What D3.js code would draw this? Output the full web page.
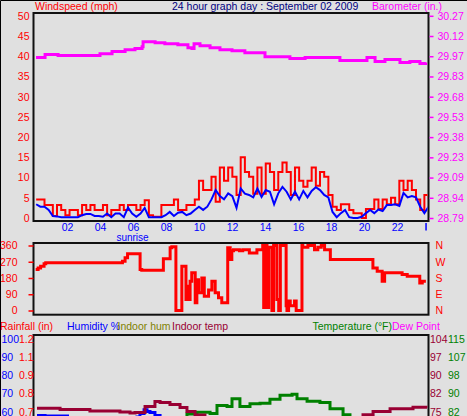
<!DOCTYPE html>
<html>
<head>
<meta charset="utf-8">
<script src="https://cdn.jsdelivr.net/npm/d3@7"></script>
<style>
  body { margin: 0; background: #e0e0e0; overflow: hidden; }
  svg { display: block; }
  text { font-family: "Liberation Sans", Arial, sans-serif; font-size: 10.5px; }
</style>
</head>
<body>
<svg id="chart"></svg>
<script>
// ---- data ----
// wind: one reading about every 15 minutes, starting just after midnight
const windStart = 0.1;
const windStep = 0.253;
const windGust = [
  4.6, 4.6, 3.2, 3.2, 0.5, 3.2, 2.0, 0.7, 2.0, 2.0,
  0.7, 3.2, 2.0, 3.2, 2.0, 2.0, 3.2, 0.7, 2.0, 2.0,
  3.2, 2.0, 3.2, 3.2, 2.0, 3.2, 4.4, 0.7, 0.3, 0.3,
  3.2, 3.2, 3.2, 4.6, 2.0, 2.0, 3.2, 3.2, 4.6, 9.2,
  6.9, 6.9, 10.2, 4.0, 12.5, 9.2, 12.5, 10.2, 5.7, 15.0,
  11.4, 10.2, 6.0, 12.5, 6.0, 13.5, 11.4, 6.9, 11.4, 13.7,
  11.4, 5.7, 12.5, 9.2, 7.7, 9.2, 12.5, 8.0, 11.4, 10.2,
  5.7, 2.8, 2.0, 3.4, 3.4, 2.0, 1.2, 1.2, 0.0, 2.2,
  2.2, 4.6, 2.2, 4.6, 3.4, 5.0, 3.4, 9.2, 6.9, 9.2,
  6.9, 4.6, 2.0, 5.7, 4.6
];
const windAvg = [
  3.4, 2.8, 2.8, 2.0, 0.5, 0.4, 0.2, 0.2, 0.2, 0.2,
  0.2, 0.7, 1.0, 1.0, 0.5, 0.5, 0.3, 1.1, 0.2, 1.1,
  1.1, 0.2, 2.6, 1.1, 0.3, 1.1, 2.5, 0.2, 0.2, 0.2,
  0.2, 0.7, 1.5, 0.5, 1.3, 1.5, 0.7, 1.1, 2.0, 2.8,
  2.0, 2.8, 4.6, 6.9, 5.4, 4.6, 6.1, 5.4, 2.5, 7.3,
  6.0, 5.7, 5.1, 7.3, 5.2, 6.9, 6.5, 3.4, 6.1, 7.7,
  6.5, 4.6, 6.5, 4.6, 6.7, 5.1, 6.7, 7.6, 6.9, 5.7,
  5.1, 1.5, 0.2, 1.2, 2.0, 0.2, 0.0, 0.0, 0.3, 1.2,
  2.0, 1.2, 2.1, 1.7, 3.2, 3.2, 3.4, 3.0, 6.2, 5.1,
  5.4, 5.1, 2.8, 1.2, 2.8
];

const baroHours = [0.09, 0.64, 1.43, 2.75, 3.97, 4.70, 5.49, 6.09, 6.52, 6.58,
  7.31, 7.90, 8.69, 9.30, 9.54, 9.67, 10.03, 10.64, 11.24, 11.97,
  12.75, 13.97, 15.48, 16.40, 18.21, 18.51, 19.73, 20.15, 20.64, 21.24,
  22.15, 22.75, 23.36, 23.72];
const baroValues = [29.964, 29.986, 29.98, 29.98, 29.993, 30.008, 30.022, 30.03, 30.044, 30.08,
  30.073, 30.066, 30.059, 30.036, 30.03, 30.066, 30.051, 30.036, 30.022, 30.015,
  30.0, 29.971, 29.957, 29.964, 29.964, 29.942, 29.942, 29.964, 29.935, 29.95,
  29.928, 29.935, 29.92, 29.928];

const dirHours = [0.07, 0.22, 0.37, 0.58, 0.68, 5.33, 5.49, 5.64, 6.40, 6.50,
  7.81, 8.22, 8.32, 8.57, 8.93, 9.18, 9.28, 9.33, 9.43, 9.53,
  9.74, 9.84, 9.94, 10.14, 10.29, 10.55, 10.75, 10.95, 11.15, 11.35,
  11.71, 11.86, 11.96, 12.06, 12.42, 12.62, 13.02, 13.48, 13.83, 13.89,
  13.99, 14.09, 14.19, 14.39, 14.49, 14.69, 14.80, 14.90, 15.25, 15.30,
  15.40, 15.50, 15.76, 15.86, 16.21, 16.26, 16.57, 16.97, 17.17, 17.38,
  17.58, 17.93, 20.51, 20.77, 21.07, 21.22, 22.28, 22.59, 23.35, 23.50, 23.72];
const dirValues = [227, 236, 245, 259, 264, 273, 292, 314, 227, 223,
  286, 347, 353, 0, 245, 61, 135, 61, 162, 209,
  43, 170, 98, 180, 79, 113, 162, 98, 70, 43,
  347, 282, 331, 336, 331, 336, 319, 336, 360, 17,
  360, 17, 350, 0, 360, 61, 0, 360, 26, 0,
  52, 26, 52, 0, 360, 350, 360, 336, 350, 360,
  336, 282, 236, 218, 162, 209, 199, 190, 153, 162, 162];

const inTempHours = [0.15, 1.55, 3.36, 5.18, 5.79, 6.09, 6.70, 7.30, 7.61, 8.21,
  8.82, 9.24, 9.73, 10.33, 12, 15, 18, 19.12, 19.91, 20.52, 21.55, 22.94, 23.79];
const inTempValues = [76.3, 75.8, 75.2, 74.8, 74.4, 74.6, 77.0, 79.0, 78.6, 77.8,
  76.6, 75.0, 73.6, 71.5, 70.5, 70.0, 70.8, 72.0, 73.7, 75.0, 76.1, 76.7, 76.5];

const tempHours = [0.1, 4, 7, 8.5, 9.24, 9.85, 10.64, 11.06, 11.67, 11.97,
  12.45, 13.06, 13.67, 14.27, 14.88, 15.61, 15.91, 16.52, 17.30, 17.91,
  18.70, 19.12, 20, 23.7];
const tempValues = [74, 72.5, 73, 78, 80.9, 81.7, 81.1, 84.7, 84.3, 87.8,
  84.3, 85.5, 85.7, 87.5, 89.3, 89.8, 87.8, 86.6, 86.1, 83.2,
  80.5, 78.8, 76, 74];

const humHours = [0.15, 0.64, 2, 4, 5.5, 6.21, 6.39, 6.64, 6.82, 7.0, 7.18, 7.30, 7.61, 10, 14, 18, 21, 23.7];
const humValues = [57.8, 57.5, 55, 54, 55, 57, 58.9, 60.9, 60.0, 59.4, 59.5, 57.8, 55, 45, 40, 45, 50, 52];

// tick labels
const hourTicks = [2, 4, 6, 8, 10, 12, 14, 16, 18, 20, 22];
const hourLabels = ["02", "04", "06", "08", "10", "12", "14", "16", "18", "20", "22"];
const windTicks = [0, 5, 10, 15, 20, 25, 30, 35, 40, 45, 50];
const baroLabels = ["28.79", "28.94", "29.09", "29.23", "29.38", "29.53", "29.68", "29.83", "29.97", "30.12", "30.27"];
const dirTicks = [0, 90, 180, 270, 360];
const dirLabels = ["N", "E", "S", "W", "N"];
const humTicks = [60, 70, 80, 90, 100];
const rainLabels = ["0.7", "0.8", "0.9", "1.1", "1.2"];
const inTempLabels = ["75", "82", "90", "97", "104"];
const tempLabels = ["82", "90", "98", "107", "115"];

// ---- layout ----
const SIZE = { width: 467, height: 416 };
const FRAME = { left: 33.5, right: 428.5 };
const TOP = { top: 13, bottom: 221 };
const MID = { top: 243, bottom: 314.7 };
const LOW = { top: 335, bottom: 480 };

const RED = "#ff0000", BLUE = "#0000ff", MAGENTA = "#ff00ff";
const NAVY = "#000080", GREEN = "#008000", MAROON = "#990033", OLIVE = "#808000";
const FONT = '"Liberation Sans", Arial, sans-serif';

const svg = d3.select("#chart")
  .attr("width", SIZE.width)
  .attr("height", SIZE.height);

svg.append("rect")
  .attr("width", SIZE.width)
  .attr("height", SIZE.height)
  .attr("fill", "#e0e0e0");

svg.append("path")
  .attr("d", `M0.5,${SIZE.height}V0.5H${SIZE.width}`)
  .attr("fill", "none")
  .attr("stroke", "#000");

const x = d3.scaleLinear().domain([0, 24]).range([34.5, 430.5]);
const windY = d3.scaleLinear().domain([0, 50]).range([218, 15.8]);
const baroY = d3.scaleLinear().domain([28.79, 30.27]).range([218, 15.8]);
const dirY = d3.scaleLinear().domain([0, 360]).range([310.5, 245.5]);
const humY = d3.scaleLinear().domain([60, 100]).range([411.5, 338.5]);
const inTempY = d3.scaleLinear().domain([75, 104]).range([411.5, 338.5]);
const tempY = d3.scaleLinear().domain([82, 115]).range([411.5, 338.5]);

const baroTicks = d3.range(11).map(i => 28.79 + i * (30.27 - 28.79) / 10);

const addText = (g, str, px, py, color, anchor = "start") =>
  g.append("text")
    .attr("x", px)
    .attr("y", py)
    .attr("fill", color)
    .attr("text-anchor", anchor)
    .text(str);

const addPanel = (id, box) => {
  svg.append("clipPath")
    .attr("id", id)
    .append("rect")
    .attr("x", FRAME.left + 1)
    .attr("y", box.top + 1)
    .attr("width", FRAME.right - FRAME.left - 2)
    .attr("height", box.bottom - box.top - 2);

  svg.append("rect")
    .attr("x", FRAME.left)
    .attr("y", box.top)
    .attr("width", FRAME.right - FRAME.left)
    .attr("height", box.bottom - box.top)
    .attr("fill", "#e0e0e0")
    .attr("stroke", "#111")
    .attr("stroke-width", 2);

  return svg.append("g").attr("clip-path", `url(#${id})`);
};

const styleAxis = (g, color) => {
  g.select(".domain").remove();
  g.selectAll("text").attr("fill", color)
    .style("font-size", "10.5px")
    .style("font-family", FONT);
  g.selectAll("line").attr("stroke", color).attr("stroke-width", 1.5);
};

const drawLine = (g, xs, ys, yScale, color, width, curve) =>
  g.append("path")
    .datum(xs.map((h, i) => [h, ys[i]]))
    .attr("fill", "none")
    .attr("stroke", color)
    .attr("stroke-width", width)
    .attr("stroke-linejoin", "miter")
    .attr("d", d3.line().x(d => x(d[0])).y(d => yScale(d[1])).curve(curve));

// ---- top panel: wind + barometer ----
const header = svg.append("g");
addText(header, "Windspeed (mph)", 35, 9.5, RED);
addText(header, "24 hour graph day : September 02 2009", 172, 9.5, NAVY);
addText(header, "Barometer (in.)", 372, 9.5, MAGENTA);

const topG = addPanel("clip-top", TOP);
const windHours = windGust.map((v, i) => windStart + i * windStep);
drawLine(topG, windHours, windGust, windY, RED, 2, d3.curveStepAfter);
drawLine(topG, windHours, windAvg, windY, BLUE, 2, d3.curveLinear);
drawLine(topG, baroHours, baroValues, baroY, MAGENTA, 3, d3.curveStepAfter);

svg.append("g")
  .attr("transform", `translate(${FRAME.left},0)`)
  .call(d3.axisLeft(windY).tickValues(windTicks).tickSize(0).tickPadding(4))
  .call(g => styleAxis(g, RED));

svg.append("g")
  .attr("transform", `translate(${FRAME.right + 1},0)`)
  .call(d3.axisRight(baroY).tickValues(baroTicks).tickSize(4).tickPadding(4)
    .tickFormat((d, i) => baroLabels[i]))
  .call(g => styleAxis(g, MAGENTA));

const hourAxis = svg.append("g");
hourAxis.selectAll("text")
  .data(hourTicks)
  .join("text")
  .attr("x", d => x(d))
  .attr("y", 230.5)
  .attr("fill", BLUE)
  .attr("text-anchor", "middle")
  .text((d, i) => hourLabels[i]);
hourAxis.append("line")
  .attr("x1", x(23.73)).attr("x2", x(23.73))
  .attr("y1", 223).attr("y2", 230.5)
  .attr("stroke", BLUE)
  .attr("stroke-width", 1.5);
addText(hourAxis, "sunrise", x(5.94), 241, BLUE, "middle")
  .style("font-size", "10px");

// ---- middle panel: wind direction ----
const midG = addPanel("clip-mid", MID);
drawLine(midG, dirHours, dirValues, dirY, RED, 3, d3.curveStepAfter);

svg.append("g")
  .attr("transform", `translate(${FRAME.left},0)`)
  .call(d3.axisLeft(dirY).tickValues(dirTicks).tickSize(5).tickPadding(11))
  .call(g => styleAxis(g, RED));

svg.append("g")
  .attr("transform", `translate(${FRAME.right + 1},0)`)
  .call(d3.axisRight(dirY).tickValues(dirTicks).tickSize(0).tickPadding(6)
    .tickFormat((d, i) => dirLabels[i]))
  .call(g => styleAxis(g, RED));

// ---- bottom panel: rain, humidity, temperatures ----
const legend = svg.append("g");
addText(legend, "Rainfall (in)", 0, 330, RED);
addText(legend, "Humidity %", 67, 330, BLUE);
addText(legend, "Indoor hum", 117.5, 330, OLIVE);
addText(legend, "Indoor temp", 172, 330, MAROON);
addText(legend, "Temperature (°F)", 392, 330, GREEN, "end");
addText(legend, "Dew Point", 392, 330, MAGENTA);

const lowG = addPanel("clip-low", LOW);
drawLine(lowG, humHours, humValues, humY, BLUE, 3, d3.curveStepAfter);
drawLine(lowG, tempHours, tempValues, tempY, GREEN, 3, d3.curveStepAfter);
drawLine(lowG, inTempHours, inTempValues, inTempY, MAROON, 3, d3.curveStepAfter);

const leftLabels = svg.append("g");
leftLabels.selectAll(".hum")
  .data(humTicks)
  .join("text")
  .attr("class", "hum")
  .attr("x", 1.5)
  .attr("y", d => humY(d) + 4)
  .attr("fill", BLUE)
  .text(d => d);
leftLabels.selectAll(".rain")
  .data(humTicks)
  .join("text")
  .attr("class", "rain")
  .attr("x", 33.5)
  .attr("y", d => humY(d) + 4)
  .attr("fill", RED)
  .attr("text-anchor", "end")
  .text((d, i) => rainLabels[i]);

const rightLabels = svg.append("g");
rightLabels.selectAll(".intemp")
  .data(humTicks)
  .join("text")
  .attr("class", "intemp")
  .attr("x", 430)
  .attr("y", d => humY(d) + 4)
  .attr("fill", MAROON)
  .text((d, i) => inTempLabels[i]);
rightLabels.selectAll(".temp")
  .data(humTicks)
  .join("text")
  .attr("class", "temp")
  .attr("x", 448)
  .attr("y", d => humY(d) + 4)
  .attr("fill", GREEN)
  .text((d, i) => tempLabels[i]);
</script>
</body>
</html>
